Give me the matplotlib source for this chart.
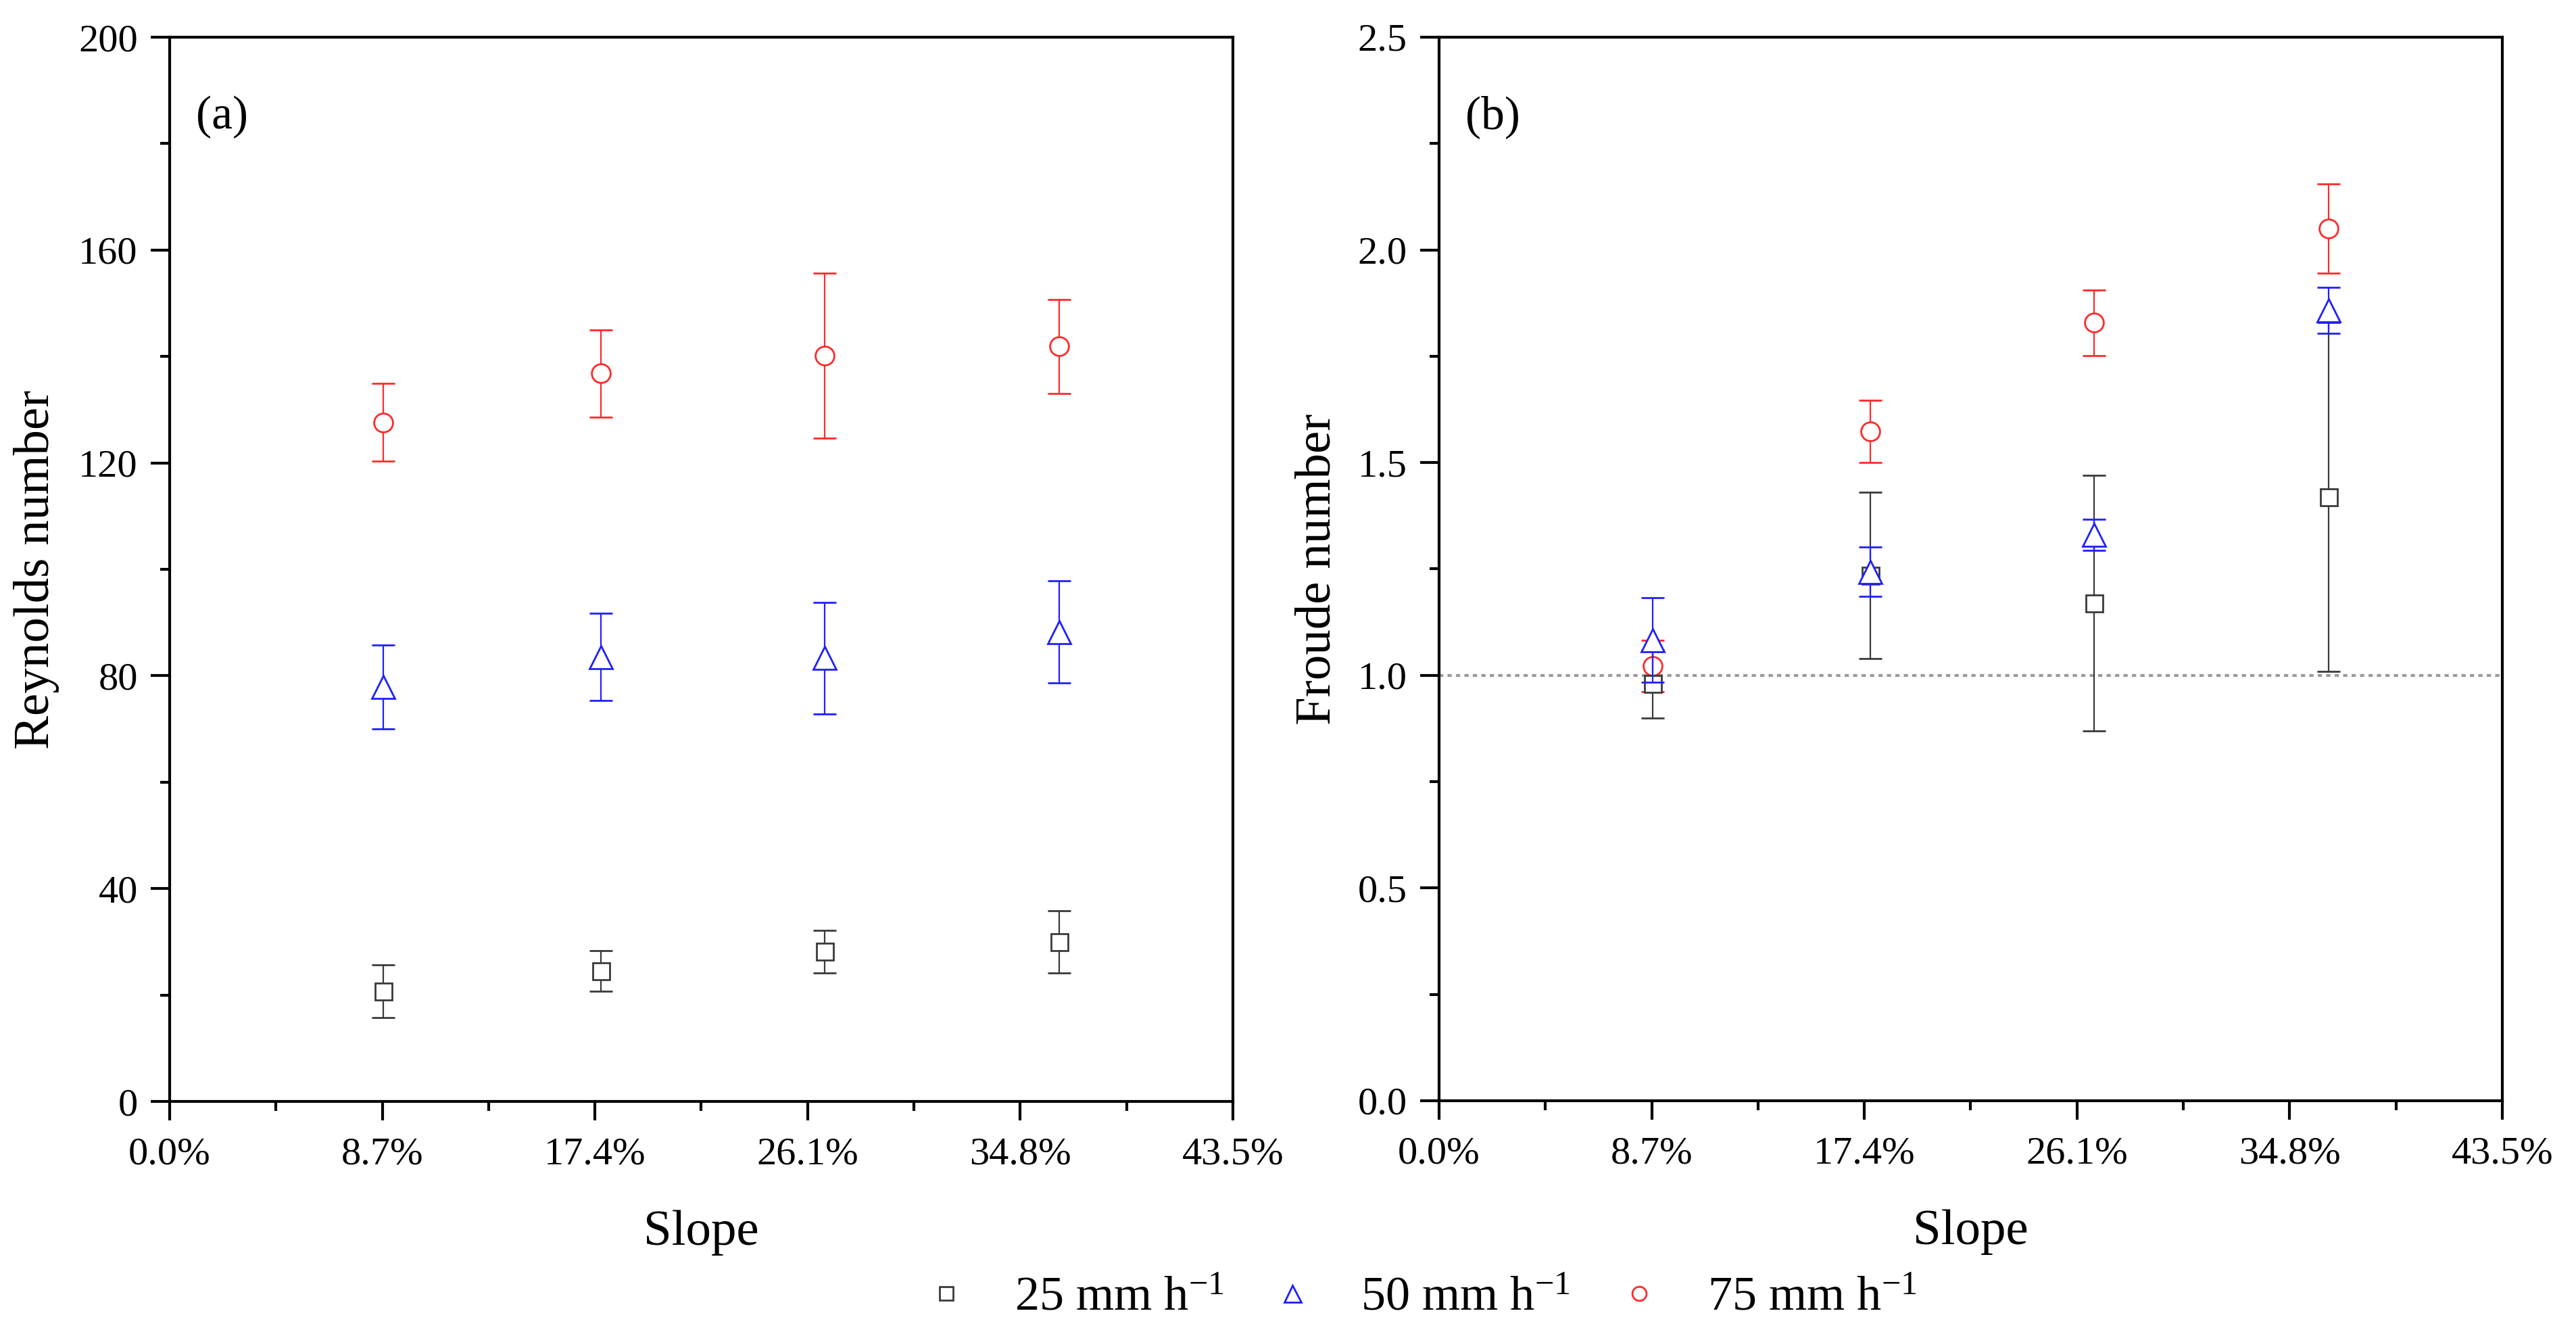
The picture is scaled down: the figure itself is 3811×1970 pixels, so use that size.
import matplotlib
matplotlib.use("Agg")
import matplotlib.pyplot as plt
from matplotlib.ticker import MultipleLocator, FixedLocator, FuncFormatter
from matplotlib.lines import Line2D

plt.rcParams['font.family'] = ['Liberation Serif', 'DejaVu Serif']
plt.rcParams['mathtext.fontset'] = 'custom'
plt.rcParams['mathtext.rm'] = 'Liberation Serif'
plt.rcParams['mathtext.it'] = 'Liberation Serif:italic'

# ---- data ----
slopes = [8.75, 17.63, 26.79, 36.40]          # slope (%)
xticks = [0.0, 8.7, 17.4, 26.1, 34.8, 43.5]
series_labels = ["25 mm h$^{-1}$", "50 mm h$^{-1}$", "75 mm h$^{-1}$"]

re_25 = [20.7, 24.5, 28.2, 30.0]
re_25_err = [5.0, 3.8, 4.0, 5.8]
re_50 = [77.9, 83.5, 83.3, 88.2]
re_50_err = [7.9, 8.2, 10.5, 9.6]
re_75 = [127.6, 136.8, 140.2, 141.9]
re_75_err = [7.3, 8.2, 15.5, 8.8]

fr_25 = [0.98, 1.235, 1.17, 1.42]
fr_25_err = [0.08, 0.195, 0.30, 0.41]
fr_50 = [1.083, 1.243, 1.33, 1.858]
fr_50_err = [0.10, 0.058, 0.037, 0.054]
fr_75 = [1.022, 1.573, 1.829, 2.05]
fr_75_err = [0.06, 0.073, 0.077, 0.105]

c_black = '#3a3a3a'
c_blue = '#1f1fff'
c_red = '#ff2a2a'

fig = plt.figure(figsize=(38.12, 19.70), dpi=100)
axL = fig.add_axes([251/3812, 1-1629/1970, 1573/3812, 1574/1970])
axR = fig.add_axes([2129/3812, 1-1628/1970, 1573/3812, 1573/1970])

styles = [
    (c_red, 'o', 20, 2),
    (c_black, 's', 18, 3),
    (c_blue, '^', 24, 4),
]

def draw(ax, data):
    for (y, e), (col, mk, ms, z) in zip(data, styles):
        ax.errorbar(slopes, y, yerr=e, fmt=mk, ms=ms, mfc='white', mec=col,
                    mew=2.0, ecolor=col, elinewidth=1.6, capsize=12, capthick=2.5,
                    zorder=z)

draw(axL, [(re_75, re_75_err), (re_25, re_25_err), (re_50, re_50_err)])
draw(axR, [(fr_75, fr_75_err), (fr_25, fr_25_err), (fr_50, fr_50_err)])
axR.axhline(1.0, color='#9a9a9a', lw=3, ls=(0, (1.5, 1.5)), zorder=1)

pct = FuncFormatter(lambda v, p: f"{v:.1f}%")
for ax in (axL, axR):
    ax.set_xlim(0, 43.5)
    ax.xaxis.set_major_locator(FixedLocator(xticks))
    ax.xaxis.set_minor_locator(FixedLocator([4.35, 13.05, 21.75, 30.45, 39.15]))
    ax.xaxis.set_major_formatter(pct)
    for s in ax.spines.values():
        s.set_linewidth(3)
    ax.tick_params(which='major', direction='out', length=20, width=3,
                   labelsize=42, top=False, right=False)
    ax.tick_params(which='minor', direction='out', length=10, width=3,
                   top=False, right=False)
    ax.tick_params(axis='x', which='major', pad=18)
    ax.tick_params(axis='y', which='major', pad=14)
    ax.set_xlabel('Slope', fontsize=54, labelpad=40)

axL.set_ylim(0, 200)
axL.yaxis.set_major_locator(MultipleLocator(40))
axL.yaxis.set_minor_locator(MultipleLocator(20))
axL.set_ylabel('Reynolds number', fontsize=54, labelpad=20)

axR.set_ylim(0, 2.5)
axR.yaxis.set_major_locator(MultipleLocator(0.5))
axR.yaxis.set_minor_locator(MultipleLocator(0.25))
axR.yaxis.set_major_formatter(FuncFormatter(lambda v, p: f"{v:.1f}"))
axR.set_ylabel('Froude number', fontsize=54, labelpad=18)

axL.text(0.025, 0.925, '(a)', transform=axL.transAxes, fontsize=50, va='center', ha='left')
axR.text(0.025, 0.925, '(b)', transform=axR.transAxes, fontsize=50, va='center', ha='left')

handles = [
    Line2D([], [], ls='none', marker='s', ms=14, mfc='white', mec=c_black, mew=2),
    Line2D([], [], ls='none', marker='^', ms=18, mfc='white', mec=c_blue, mew=2),
    Line2D([], [], ls='none', marker='o', ms=15, mfc='white', mec=c_red, mew=2),
]
fig.legend(handles, series_labels, loc='center', bbox_to_anchor=(2100/3812, 50/1970),
           ncol=3, frameon=False, fontsize=52, handlelength=1.0, handletextpad=0.9,
           columnspacing=0.9)

fig.savefig('out.png', dpi=100, facecolor='white')
